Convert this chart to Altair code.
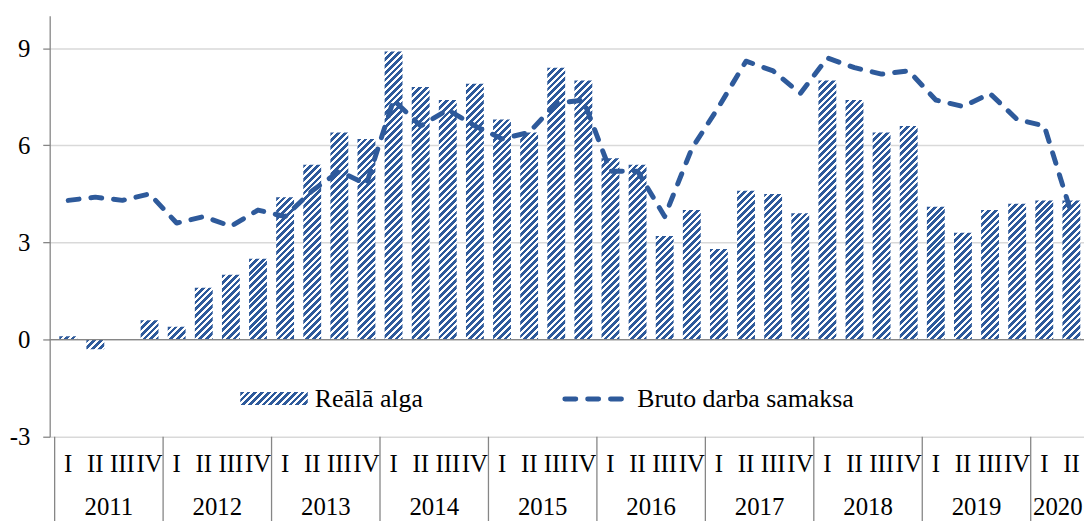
import altair as alt
import pandas as pd

# ---------------- data ----------------
years = [2011, 2012, 2013, 2014, 2015, 2016, 2017, 2018, 2019, 2020]
quarter_names = ["I", "II", "III", "IV"]

real_wage = [0.1, -0.3, 0.0, 0.6,
             0.4, 1.6, 2.0, 2.5,
             4.4, 5.4, 6.4, 6.2,
             8.9, 7.8, 7.4, 7.9,
             6.8, 6.4, 8.4, 8.0,
             5.6, 5.4, 3.2, 4.0,
             2.8, 4.6, 4.5, 3.9,
             8.0, 7.4, 6.4, 6.6,
             4.1, 3.3, 4.0, 4.2,
             4.3, 4.3]

gross_wage = [4.3, 4.4, 4.3, 4.5,
              3.6, 3.8, 3.5, 4.0,
              3.8, 4.6, 5.2, 4.8,
              7.4, 6.6, 7.1, 6.6,
              6.2, 6.4, 7.3, 7.4,
              5.2, 5.2, 3.8, 5.9,
              7.2, 8.6, 8.3, 7.6,
              8.7, 8.4, 8.2, 8.3,
              7.4, 7.2, 7.6, 6.8,
              6.6, 3.9]

y_ticks = [-3, 0, 3, 6, 9]
legend_labels = ["Reālā alga", "Bruto darba samaksa"]

# ---------------- layout / style ----------------
W, H = 1042, 424
Y_MIN, Y_MAX = -3, 10
N = len(real_wage)
X_MAX = 38 * W / 1048.0
BLUE = "#2E5A9B"
GRID = "#D9D9D9"
AXIS = "#868686"
FONT = "Liberation Serif"
FS = 25
FS_LEG = 26
BAR_W = 18
PX_PER_UNIT = H / (Y_MAX - Y_MIN)


def hatch(w, h, period=6.8, frac=0.56):
    """Diagonal '/' stripes as a hard-stop linear gradient in bbox units."""
    s = w + h
    d = w * w + h * h
    a = w * s / d
    b = h * s / d
    p = period / s
    stops = []
    k = 0
    while k * p < 1:
        o0 = k * p
        o1 = min((k + frac) * p, 1.0)
        o2 = min((k + 1) * p, 1.0)
        stops += [{"offset": round(o0, 5), "color": BLUE},
                  {"offset": round(o1, 5), "color": BLUE},
                  {"offset": round(o1, 5), "color": "#FFFFFF"},
                  {"offset": round(o2, 5), "color": "#FFFFFF"}]
        k += 1
    return {"gradient": "linear", "x1": 0, "y1": 0,
            "x2": round(a, 5), "y2": round(b, 5), "stops": stops}


n_years = len(years)
q_labels = [quarter_names[i % 4] for i in range(N)]
df = pd.DataFrame({
    "i": list(range(N)),
    "pos": [i + 0.5 for i in range(N)],
    "real": real_wage,
    "gross": gross_wage,
    "q": q_labels,
})

year_start = [4 * k for k in range(n_years)]
year_end = [min(4 * k + 4, N) for k in range(n_years)]
ydf = pd.DataFrame({
    "year": [str(y) for y in years],
    "center": [(s + e) / 2 for s, e in zip(year_start, year_end)],
    "start": year_start,
})

xs = alt.Scale(domain=[0, X_MAX], nice=False, zero=False)
ys = alt.Scale(domain=[Y_MIN, Y_MAX], nice=False, zero=False)

y_axis = alt.Axis(values=y_ticks, grid=True, gridColor=GRID, gridWidth=1.5,
                  domainColor=AXIS, domainWidth=1.3, tickColor=AXIS, tickSize=7,
                  tickWidth=1.3, labelFont=FONT, labelFontSize=FS,
                  labelExpr="datum.value < 0 ? '-' + abs(datum.value) : '' + datum.value",
                  labelColor="black", labelPadding=13, title=None)

Y_REAL = alt.Y("real:Q", scale=ys, axis=y_axis)
X_POS = alt.X("pos:Q", scale=xs, axis=None)

layers = []
# hatched bars, one per quarter
for i, v in enumerate(real_wage):
    if v == 0:
        continue
    g = hatch(BAR_W, abs(v) * PX_PER_UNIT)
    layer = alt.Chart(df).transform_filter(alt.datum.i == i).mark_bar(
        size=BAR_W, fill=g, clip=True
    ).encode(x=X_POS, y=Y_REAL)
    layers.append(layer)

# zero line
zero = alt.Chart(pd.DataFrame({"real": [0]})).mark_rule(
    color=AXIS, strokeWidth=1.3
).encode(y=Y_REAL)
layers.append(zero)

# dashed gross wage line
line = alt.Chart(df).mark_line(
    color=BLUE, strokeWidth=5, strokeDash=[11, 12], strokeCap="round",
    strokeJoin="round", clip=True
).encode(
    x=X_POS,
    y=alt.Y("gross:Q", scale=ys, axis=y_axis),
)
layers.append(line)

# quarter labels
qtext = alt.Chart(df).mark_text(
    font=FONT, fontSize=FS, color="black", align="center", baseline="middle"
).encode(
    x=X_POS,
    y=alt.value(H + 28),
    text="q:N",
)
layers.append(qtext)

# year labels
ytext = alt.Chart(ydf).mark_text(
    font=FONT, fontSize=FS, color="black", align="center", baseline="middle"
).encode(
    x=alt.X("center:Q", scale=xs, axis=None),
    y=alt.value(H + 71),
    text="year:N",
)
layers.append(ytext)

# year separators (and axis extension)
sep = alt.Chart(ydf).mark_rule(color=AXIS, strokeWidth=1.3).encode(
    x=alt.X("start:Q", scale=xs, axis=None),
    y=alt.value(H),
    y2=alt.value(H + 100),
)
layers.append(sep)

# manual legend
leg_y = 386
leg_rect = alt.Chart(pd.DataFrame({"k": [0]})).mark_rect(
    fill=hatch(68, 13)
).encode(
    x=alt.value(192), x2=alt.value(260), y=alt.value(leg_y - 7), y2=alt.value(leg_y + 6)
)
leg_t1 = alt.Chart(pd.DataFrame({"t": [legend_labels[0]]})).mark_text(
    font=FONT, fontSize=FS_LEG, color="black", align="left", baseline="middle"
).encode(x=alt.value(267), y=alt.value(leg_y), text="t:N")
leg_line = alt.Chart(pd.DataFrame({"k": [0]})).mark_rule(
    color=BLUE, strokeWidth=5, strokeDash=[11, 12], strokeCap="round"
).encode(x=alt.value(519), x2=alt.value(577), y=alt.value(leg_y))
leg_t2 = alt.Chart(pd.DataFrame({"t": [legend_labels[1]]})).mark_text(
    font=FONT, fontSize=FS_LEG, color="black", align="left", baseline="middle"
).encode(x=alt.value(592), y=alt.value(leg_y), text="t:N")
layers += [leg_rect, leg_t1, leg_line, leg_t2]

chart = alt.layer(*layers).properties(
    width=W,
    height=H,
    autosize=alt.AutoSizeParams(type="none"),
    padding={"left": 42, "top": 6, "right": 0, "bottom": 84},
    background="white",
).configure_view(stroke=None)

chart.save("out.html", embed_options={"renderer": "svg", "actions": False})
